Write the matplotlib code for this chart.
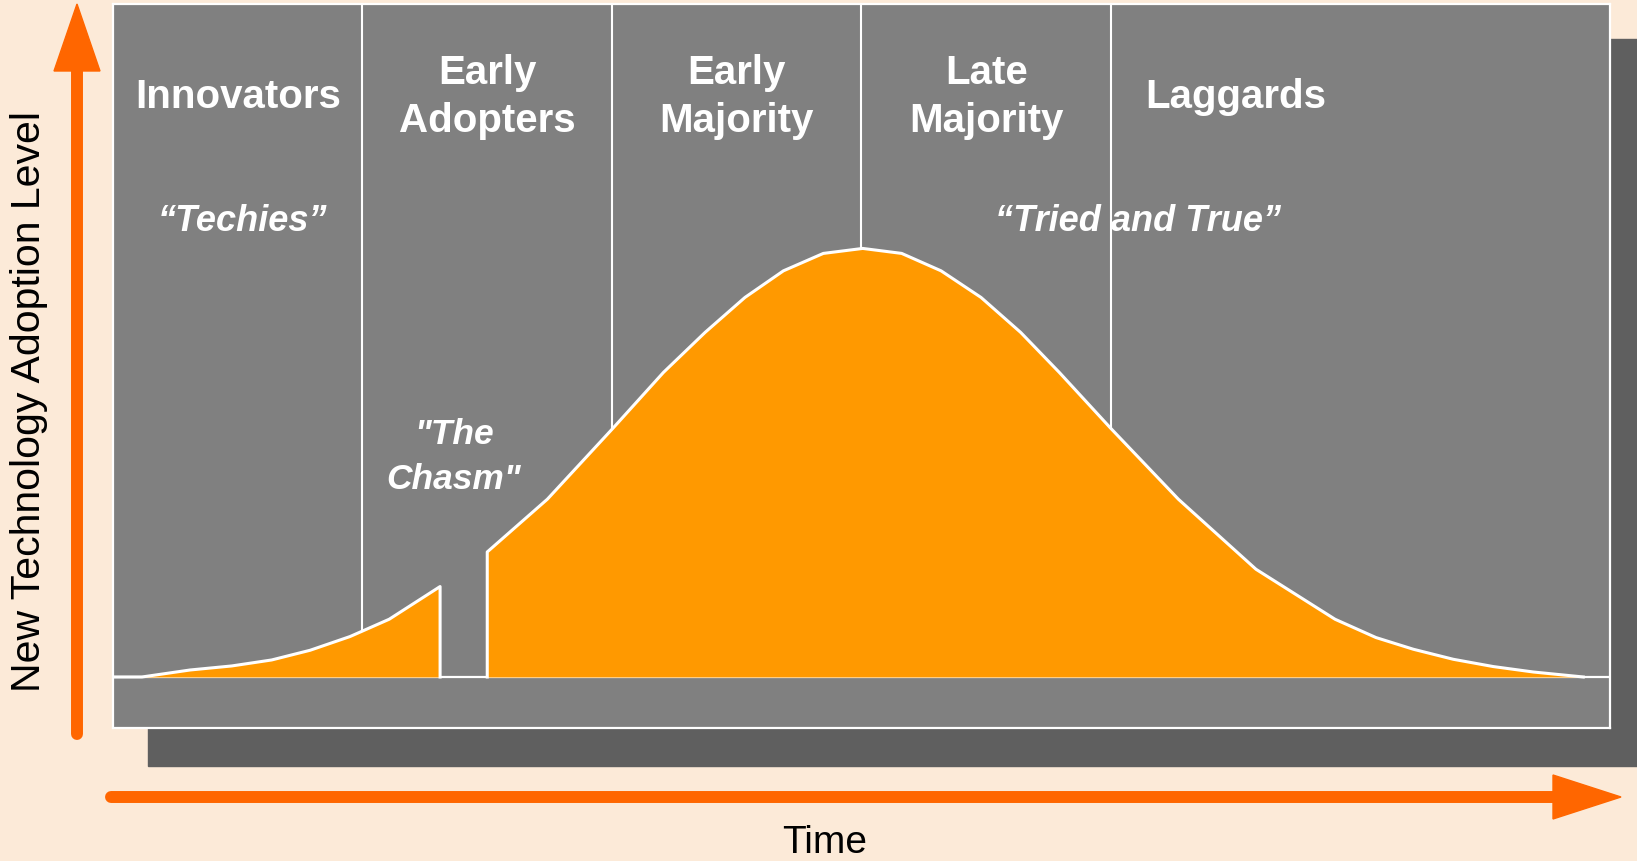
import numpy as np
import matplotlib
matplotlib.use("Agg")
import matplotlib.pyplot as plt
from matplotlib.patches import Rectangle, Polygon

plt.rcParams['font.family'] = ['Liberation Sans', 'DejaVu Sans']

# adoption curve, time in units of std dev (0..6), level in % of box height
early_x = [0.116, 0.309, 0.476, 0.636, 0.790, 0.950, 1.107, 1.311]
early_y = [0.0, 1.04, 1.64, 2.53, 3.97, 6.01, 8.58, 13.44]
main_x = [1.500, 1.741, 2.003, 2.206, 2.373, 2.533, 2.687, 2.847, 3.005,
          3.161, 3.319, 3.479, 3.638, 3.793, 3.996, 4.270, 4.581, 4.898,
          5.062, 5.212, 5.372, 5.532, 5.693, 5.893]
main_y = [18.58, 26.42, 36.93, 45.25, 51.20, 56.40, 60.35, 62.94, 63.68,
          62.94, 60.35, 56.40, 51.20, 45.25, 37.07, 26.42, 16.01, 8.58,
          5.86, 4.12, 2.63, 1.55, 0.74, 0.0]

dividers = [1, 2, 3, 4]
segments = ["Innovators", "Early\nAdopters", "Early\nMajority", "Late\nMajority", "Laggards"]
segment_x = [0.5, 1.5, 2.5, 3.5, 4.5]
nicknames = ["\u201cTechies\u201d", "\u201cTried and True\u201d"]
nickname_x = [0.52, 4.11]

fig = plt.figure(figsize=(16.37, 8.62), dpi=100)
fig.patch.set_facecolor('#FCEAD8')

# decoration layer in pixel units
bg = fig.add_axes([0, 0, 1, 1])
bg.set_xlim(0, 1637)
bg.set_ylim(862, 0)
bg.axis('off')
bg.add_patch(Rectangle((148, 40), 1600, 727, color='#5F5F5F'))
bg.plot([77, 77], [735, 70], color='#FF6600', lw=8.6, solid_capstyle='round')
bg.add_patch(Polygon([(54, 72), (100, 72), (77, 5)], color='#FF6600'))
bg.plot([111, 1556], [798, 798], color='#FF6600', lw=8.6, solid_capstyle='round')
bg.add_patch(Polygon([(1553, 776), (1553, 820), (1621, 798)], color='#FF6600'))
bg.text(29, 402, "New Technology Adoption Level", rotation=90, fontsize=29.5,
        ha='center', va='center', color='black')
bg.text(825, 843, "Time", fontsize=28, ha='center', va='center', color='black')

ax = fig.add_axes([113 / 1637, (862 - 729) / 862, (1610 - 113) / 1637, (729 - 5) / 862])
ax.set_xlim(0, 6)
ax.set_ylim(-7.58, 100)
ax.set_facecolor('#808080')
ax.set_xticks([])
ax.set_yticks([])
for s in ax.spines.values():
    s.set_color('white')
    s.set_linewidth(1.6)

ax.axhline(0, color='white', lw=1.6, zorder=4)

all_x = np.array(early_x + main_x)
all_y = np.array(early_y + main_y)
for d in dividers:
    ax.plot([d, d], [np.interp(d, all_x, all_y), 100], color='white', lw=1.5, zorder=4)

ex = np.array(early_x)
ey = np.array(early_y)
mx = np.array(main_x)
my = np.array(main_y)
ax.fill_between(ex, 0, ey, color='#FF9900', lw=0, zorder=5)
ax.fill_between(mx, 0, my, color='#FF9900', lw=0, zorder=5)
ax.plot(np.r_[0, ex, ex[-1]], np.r_[0, ey, 0], color='white', lw=2.2, zorder=6)
ax.plot(np.r_[mx[0], mx], np.r_[0, my], color='white', lw=2.2, zorder=6)

for lab, x in zip(segments, segment_x):
    ax.text(x, 86.3, lab, ha='center', va='center', color='white',
            fontsize=29, fontweight='bold', linespacing=1.32, zorder=3)
for lab, x in zip(nicknames, nickname_x):
    ax.text(x, 67.8, lab, ha='center', va='center', color='white',
            fontsize=26, fontweight='bold', fontstyle='italic', zorder=3)
ax.text(1.367, 32.8, "\"The\nChasm\"", ha='center', va='center', color='white',
        fontsize=25.5, fontweight='bold', fontstyle='italic', linespacing=1.45, zorder=3)

fig.savefig("out.png", dpi=100, facecolor=fig.get_facecolor())
